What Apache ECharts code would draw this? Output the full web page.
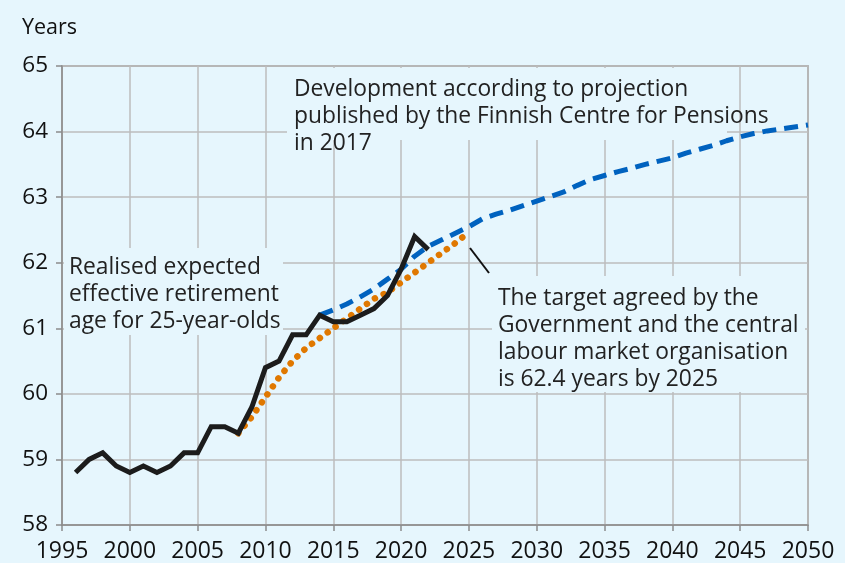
<!DOCTYPE html>
<html>
<head>
<meta charset="utf-8">
<script src="https://cdn.jsdelivr.net/npm/echarts@6/dist/echarts.min.js"></script>
<style>
html,body{margin:0;padding:0;background:#e6f6fd;}
#c{width:845px;height:563px;}
</style>
</head>
<body>
<div id="c"></div>
<script>
// ---- data ----
const realisedYears = [1996,1997,1998,1999,2000,2001,2002,2003,2004,2005,2006,2007,2008,2009,2010,2011,2012,2013,2014,2015,2016,2017,2018,2019,2020,2021,2022];
const realisedValues = [58.8,59.0,59.1,58.9,58.8,58.9,58.8,58.9,59.1,59.1,59.5,59.5,59.4,59.8,60.4,60.5,60.9,60.9,61.2,61.1,61.1,61.2,61.3,61.5,61.9,62.4,62.2];

const targetYears = [2008,2009,2010,2011,2012,2013,2014,2015,2016,2017,2018,2019,2020,2021,2022,2023,2024,2024.6];
const targetValues = [59.4,59.65,59.95,60.25,60.5,60.7,60.85,61.0,61.15,61.3,61.45,61.55,61.7,61.85,62.0,62.15,62.3,62.4];

const projYears = [2014,2015,2016,2017,2018,2019,2020,2021,2022,2023,2024,2025,2026,2027,2028,2029,2030,2031,2032,2033,2034,2035,2036,2037,2038,2039,2040,2041,2042,2043,2044,2045,2046,2047,2048,2049,2050];
const projValues = [61.2,61.28,61.37,61.48,61.6,61.75,61.9,62.1,62.25,62.35,62.45,62.55,62.67,62.74,62.8,62.87,62.94,63.01,63.08,63.18,63.27,63.33,63.39,63.44,63.5,63.55,63.6,63.67,63.73,63.79,63.86,63.92,63.97,64.01,64.04,64.07,64.1];

const yAxisTitle = "Years";
const noteProjection = ["Development according to projection","published by the Finnish Centre for Pensions","in 2017"];
const noteRealised = ["Realised expected","effective retirement","age for 25-year-olds"];
const noteTarget = ["The target agreed by the","Government and the central","labour market organisation","is 62.4 years by 2025"];

const zip = (xs, ys) => xs.map((x, i) => [x, ys[i]]);

const BG = '#e6f6fd';
const FONT = '"Open Sans", "Noto Sans", sans-serif';
const TXT = '#222222';

function box(x, y, w, h, lines, tx, ty, lh) {
  return [
    {type:'rect', z:1, shape:{x:x,y:y,width:w,height:h}, style:{fill:BG}, silent:true},
    {type:'text', z:1, x:tx, y:ty, style:{text:lines.join('\n'), font:'22.8px ' + FONT, fill:TXT, lineHeight:lh, verticalAlign:'top'}, silent:true}
  ];
}

const chart = echarts.init(document.getElementById('c'), null, {renderer:'canvas'});
chart.setOption({
  backgroundColor: BG,
  animation: false,
  grid: {left:62, right:37, top:66, bottom:38, show:true, borderColor:'#8c8c8c', borderWidth:1.5, backgroundColor:'transparent'},
  xAxis: {
    type:'value', min:1995, max:2050, interval:5,
    axisLine:{show:true, lineStyle:{color:'#8c8c8c', width:1.5}},
    axisTick:{show:true, length:6, lineStyle:{color:'#8c8c8c', width:1.5}},
    axisLabel:{color:'#111', fontSize:23, fontFamily:FONT, margin:15, formatter: v => String(v)},
    splitLine:{show:true, lineStyle:{color:'#bcbcbc', width:1.5}}
  },
  yAxis: {
    type:'value', min:58, max:65, interval:1,
    name: yAxisTitle, nameLocation:'end', nameGap:27,
    nameTextStyle:{color:'#111', fontSize:21.5, fontFamily:FONT, align:'left', padding:[0,0,0,-40]},
    axisLine:{show:true, lineStyle:{color:'#8c8c8c', width:1.5}},
    axisTick:{show:true, length:6, lineStyle:{color:'#8c8c8c', width:1.5}},
    axisLabel:{color:'#111', fontSize:22.5, fontFamily:FONT, margin:14},
    splitLine:{show:true, lineStyle:{color:'#bcbcbc', width:1.5}}
  },
  series: [
    {type:'line', data: zip(targetYears, targetValues), symbol:'none', z:3,
     lineStyle:{color:'#e07800', width:6.5, type:[0.1, 9.6], cap:'round'}},
    {type:'line', data: zip(projYears, projValues), symbol:'none', z:4,
     lineStyle:{color:'#0062bf', width:5, type:[14, 8], cap:'butt'}},
    {type:'line', data: zip(realisedYears, realisedValues), symbol:'none', z:5,
     lineStyle:{color:'#1c1c1c', width:5, join:'miter'}}
  ],
  graphic: [].concat(
    box(287, 68, 440, 72, noteProjection, 294, 76, 27),
    box(64, 248, 219, 87, noteRealised, 69, 254, 27),
    box(492, 276, 313, 116, noteTarget, 498, 285, 27),
    [{type:'line', z:6, shape:{x1:470, y1:248, x2:489, y2:273}, style:{stroke:'#111', lineWidth:2}, silent:true}]
  )
});
</script>
</body>
</html>
